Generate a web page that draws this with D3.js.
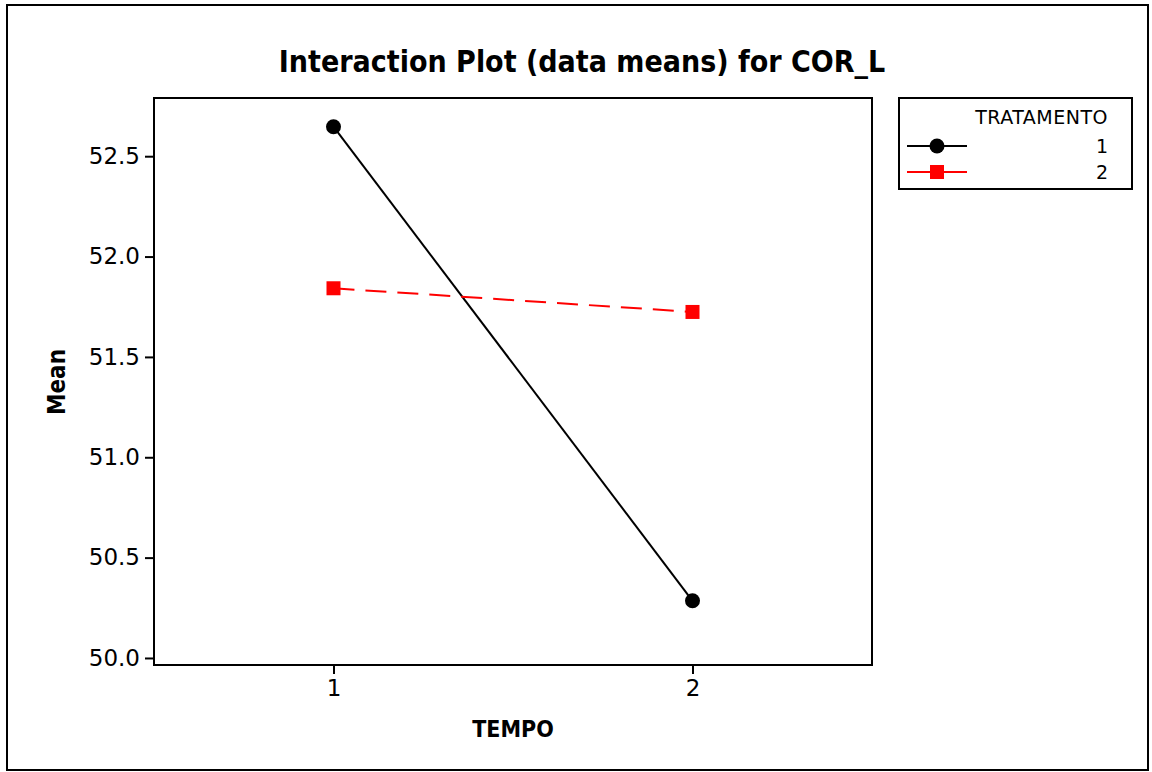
<!DOCTYPE html>
<html>
<head>
<meta charset="utf-8">
<script src="https://cdn.jsdelivr.net/npm/d3@7"></script>
<style>
  body { margin: 0; background: #fff; }
  text { font-family: "DejaVu Sans", sans-serif; }
  .condensed { font-family: "DejaVu Sans Condensed", "DejaVu Sans", sans-serif; }
</style>
</head>
<body>
<div id="chart"></div>
<script>
// data
const tempoLevels = [1, 2];
const tratamento1 = [52.647, 50.285];
const tratamento2 = [51.842, 51.724];
const seriesNames = ["1", "2"];
const yTicks = [50.0, 50.5, 51.0, 51.5, 52.0, 52.5];

const W = 1152, H = 772;
const plot = { left: 154, right: 872, top: 98, bottom: 665 };

const svg = d3.select("#chart")
    .append("svg")
    .attr("width", W)
    .attr("height", H);

// outer frame
svg.append("rect")
    .attr("x", 7).attr("y", 5)
    .attr("width", 1141).attr("height", 765)
    .attr("fill", "white")
    .attr("stroke", "black")
    .attr("stroke-width", 2);

const xScale = d3.scaleLinear()
    .domain([0.5, 2.5])
    .range([plot.left, plot.right]);

const yScale = d3.scaleLinear()
    .domain([49.965, 52.79])
    .range([plot.bottom, plot.top]);

// plot box
svg.append("rect")
    .attr("x", plot.left).attr("y", plot.top)
    .attr("width", plot.right - plot.left)
    .attr("height", plot.bottom - plot.top)
    .attr("fill", "none")
    .attr("stroke", "black")
    .attr("stroke-width", 2);

// Axes
const yAxis = svg.append("g")
    .attr("transform", `translate(${plot.left},0)`)
    .call(d3.axisLeft(yScale).tickValues(yTicks).tickFormat(d3.format(".1f")).tickSize(9).tickPadding(5));

const xAxis = svg.append("g")
    .attr("transform", `translate(0,${plot.bottom})`)
    .call(d3.axisBottom(xScale).tickValues(tempoLevels).tickFormat(d3.format("d")).tickSize(9).tickPadding(6));

[yAxis, xAxis].forEach(a => {
    a.select(".domain").remove();
    a.selectAll(".tick line").attr("stroke", "black").attr("stroke-width", 2);
    a.selectAll(".tick text")
        .attr("fill", "black")
        .style("font-family", "DejaVu Sans, sans-serif")
        .style("font-size", "23px");
});

// Labels
svg.append("text")
    .attr("class", "condensed")
    .attr("x", 582)
    .attr("y", 72)
    .attr("text-anchor", "middle")
    .style("font-size", "30px")
    .style("font-weight", "bold")
    .text("Interaction Plot (data means) for COR_L");

svg.append("text")
    .attr("class", "condensed")
    .attr("x", (plot.left + plot.right) / 2)
    .attr("y", 737)
    .attr("text-anchor", "middle")
    .style("font-size", "23px")
    .style("font-weight", "bold")
    .text("TEMPO");

svg.append("text")
    .attr("class", "condensed")
    .attr("transform", "rotate(-90)")
    .attr("x", -382)
    .attr("y", 65)
    .attr("text-anchor", "middle")
    .style("font-size", "24px")
    .style("font-weight", "bold")
    .text("Mean");

// Lines
const line = d3.line()
    .x((d, i) => xScale(tempoLevels[i]))
    .y(d => yScale(d));

svg.append("path")
    .attr("d", line(tratamento1))
    .attr("fill", "none")
    .attr("stroke", "black")
    .attr("stroke-width", 2);

svg.append("path")
    .attr("d", line(tratamento2))
    .attr("fill", "none")
    .attr("stroke", "red")
    .attr("stroke-width", 2)
    .attr("stroke-dasharray", "21,11");

svg.selectAll("circle.t1")
    .data(tratamento1)
    .enter()
    .append("circle")
    .attr("class", "t1")
    .attr("cx", (d, i) => xScale(tempoLevels[i]))
    .attr("cy", d => yScale(d))
    .attr("r", 7.5)
    .attr("fill", "black");

svg.selectAll("rect.t2")
    .data(tratamento2)
    .enter()
    .append("rect")
    .attr("class", "t2")
    .attr("x", (d, i) => xScale(tempoLevels[i]) - 7)
    .attr("y", d => yScale(d) - 7)
    .attr("width", 14)
    .attr("height", 14)
    .attr("fill", "red");

// Legend
const legend = svg.append("g");
legend.append("rect")
    .attr("x", 899).attr("y", 98)
    .attr("width", 233).attr("height", 91)
    .attr("fill", "white")
    .attr("stroke", "black")
    .attr("stroke-width", 2);

legend.append("text")
    .attr("x", 1108)
    .attr("y", 124)
    .attr("text-anchor", "end")
    .style("font-size", "19px")
    .style("letter-spacing", "0.5px")
    .text("TRATAMENTO");

const rows = legend.selectAll(".legend-row")
    .data(seriesNames)
    .enter()
    .append("g")
    .attr("class", "legend-row")
    .attr("transform", (d, i) => `translate(0, ${146 + i * 26})`);

rows.append("line")
    .attr("x1", 907).attr("x2", 967)
    .attr("stroke", (d, i) => i === 0 ? "black" : "red")
    .attr("stroke-width", 2);

rows.filter((d, i) => i === 0).append("circle")
    .attr("cx", 937).attr("r", 7.5)
    .attr("fill", "black");

rows.filter((d, i) => i === 1).append("rect")
    .attr("x", 930).attr("y", -7)
    .attr("width", 14).attr("height", 14)
    .attr("fill", "red");

rows.append("text")
    .attr("x", 1108)
    .attr("y", 7)
    .attr("text-anchor", "end")
    .style("font-size", "19px")
    .text(d => d);
</script>
</body>
</html>
